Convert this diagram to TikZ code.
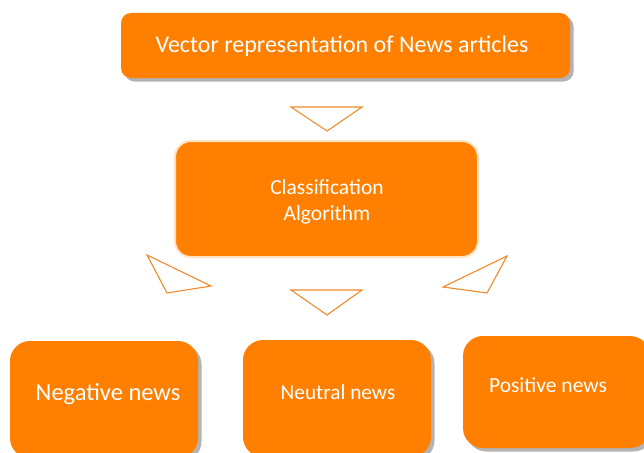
\documentclass[tikz,border=0pt]{standalone}
\usepackage{fontspec}
\setmainfont{Carlito}
\usetikzlibrary{shadows}
\definecolor{boxorange}{HTML}{FF8000}
\definecolor{lineorange}{HTML}{F28A2A}
\definecolor{glow}{HTML}{FFE3C4}
\tikzset{
  box/.style={fill=boxorange, draw=none, inner sep=0pt},
  shadowed/.style={drop shadow={shadow xshift=3.5pt, shadow yshift=-3.5pt, fill=black!40, opacity=0.75}},
  boxtext/.style={text=white, inner sep=0pt, align=center},
  pointer/.style={draw=lineorange, fill=white, line width=1.1pt, line join=miter}
}
\begin{document}
\begin{tikzpicture}[x=1pt, y=-1pt]
  \useasboundingbox (0,0) rectangle (644,452);

  % input box
  \node[box, shadowed, rounded corners=10pt, minimum width=449pt, minimum height=65pt] (vec) at (345.5,45.5) {};
  \node[boxtext, font=\fontsize{24}{28}\selectfont] (vectxt) at (342,46) {Vector representation\ of News articles};

  % classifier box with a soft halo
  \node[box, rounded corners=16pt, minimum width=303pt, minimum height=116pt,
        draw=glow, line width=2pt] (cls) at (326.5,199) {};
  \node[boxtext, font=\fontsize{21.5}{26}\selectfont] (clstxt) at (327,202) {Classification\\Algorithm};

  % output boxes
  \node[box, shadowed, rounded corners=20pt, minimum width=188pt, minimum height=117pt] (neg) at (104,399.5) {};
  \node[boxtext, font=\fontsize{24.5}{28}\selectfont] (negtxt) at (108,394) {Negative news};

  \node[box, shadowed, rounded corners=20pt, minimum width=188pt, minimum height=117pt] (neu) at (337,398.5) {};
  \node[boxtext, font=\fontsize{21.3}{24}\selectfont] (neutxt) at (338,392) {Neutral news};

  \node[box, shadowed, rounded corners=20pt, minimum width=187pt, minimum height=112pt] (pos) at (556.5,392) {};
  \node[boxtext, font=\fontsize{21.5}{24}\selectfont] (postxt) at (548,385) {Positive news};

  % pointer triangles
  \draw[pointer] (291,107) -- (362,107) -- (327,131) -- cycle;
  \draw[pointer] (147,255) -- (211,286) -- (167,293) -- cycle;
  \draw[pointer] (291,290) -- (362,290) -- (327,315) -- cycle;
  \draw[pointer] (507,256) -- (443,287) -- (487,293) -- cycle;
\end{tikzpicture}
\end{document}
